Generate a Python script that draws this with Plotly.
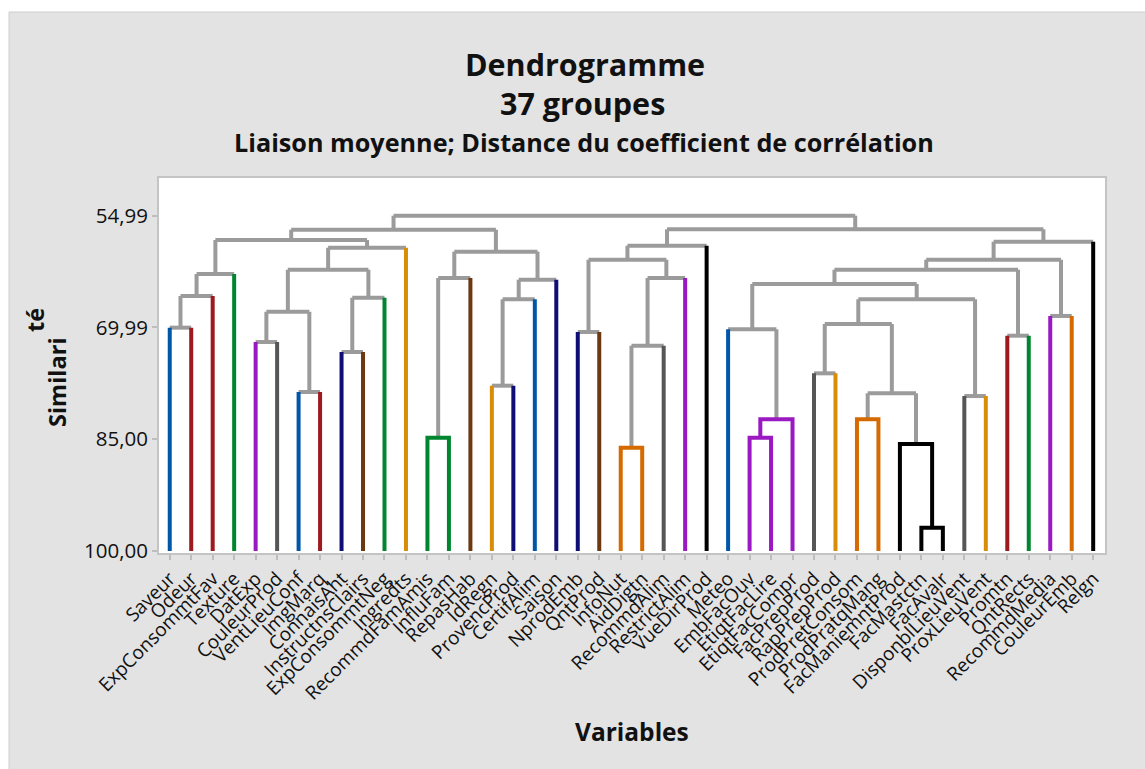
import numpy as np
import plotly.graph_objects as go

# Variables in dendrogram (leaf) order
leaves = [
    "Saveur", "Odeur", "ExpConsommtFav", "Texture", "DatExp", "CouleurProd",
    "VentLieuConf", "ImgMarq", "ConnaisAht", "InstructnsClairs", "ExpConsommtNeg",
    "Ingredts", "RecommdFamAmis", "InfluFam", "RepasHab", "IdRegn", "ProvencProd",
    "CertifAlim", "Saison", "NprodEmb", "QntProd", "InfoNut", "AidDigtn",
    "RecommdAlim", "RestrictAlim", "VueDirProd", "Meteo", "EmbFacOuv",
    "EtiqtFacLire", "EtiqtFacCompr", "FacPrepProd", "RapPrepProd",
    "ProdPretConsom", "ProdPratqMang", "FacManiemntProd", "FacMastctn",
    "FacAvalr", "DisponblLieuVent", "ProxLieuVent", "Promtn", "QntRects",
    "RecommdMedia", "CouleurEmb", "Relgn",
]

BLUE, RED, GREEN, PURPLE = "#0057a8", "#9e1a1e", "#00862f", "#9b19c2"
GREY, NAVY, BROWN, GOLD = "#565656", "#0e0e76", "#6b3812", "#d98c05"
ORANGE, BLACK = "#d46a00", "#000000"

leaf_colors = [
    BLUE, RED, RED, GREEN, PURPLE, GREY, BLUE, RED, NAVY, BROWN, GREEN,
    GOLD, GREEN, GREEN, BROWN, GOLD, NAVY, BLUE, NAVY, NAVY, BROWN, ORANGE,
    ORANGE, GREY, PURPLE, BLACK, BLUE, PURPLE, PURPLE, PURPLE, GREY, GOLD,
    ORANGE, ORANGE, BLACK, BLACK, BLACK, GREY, GOLD, RED, GREEN, PURPLE,
    ORANGE, BLACK,
]

# Average-linkage merges: node ids 0..43 are leaves, 44+ are merges in order
merge_left = [0, 44, 45, 4, 6, 47, 8, 50, 49, 52, 46, 12, 55, 15, 57, 58, 56,
              54, 19, 21, 63, 64, 62, 66, 27, 68, 26, 30, 32, 35, 34, 72, 71,
              37, 76, 70, 39, 79, 41, 81, 83, 67, 61]
merge_right = [1, 2, 3, 5, 7, 48, 9, 10, 51, 11, 53, 13, 14, 16, 17, 18, 59,
               60, 20, 22, 23, 24, 65, 25, 28, 29, 69, 31, 33, 36, 73, 74, 75,
               38, 77, 78, 40, 80, 42, 82, 43, 84, 85]
merge_similarity = [70.02, 65.77, 62.82, 71.95, 78.66, 67.88, 73.29, 66.00,
                    62.24, 59.29, 58.25, 84.79, 63.35, 77.81, 66.21, 63.58,
                    59.82, 56.87, 70.60, 86.13, 72.44, 63.35, 60.90, 59.02,
                    84.79, 82.32, 70.24, 76.15, 82.32, 96.87, 85.64, 78.83,
                    69.53, 79.20, 66.21, 64.16, 71.10, 62.24, 68.45, 60.90,
                    58.48, 56.82, 54.99]

n_groups = 37
LINK_GREY = "#9b9b9b"

n = len(leaves)
xpos = {i: float(i) for i in range(n)}
height = {i: 100.0 for i in range(n)}
first_leaf = {i: i for i in range(n)}
for k, (a, b, s) in enumerate(zip(merge_left, merge_right, merge_similarity)):
    node = n + k
    xpos[node] = (xpos[a] + xpos[b]) / 2
    height[node] = s
    first_leaf[node] = first_leaf[a]

# The merges with the highest similarity lie inside the 37 groups
order = np.argsort(merge_similarity)[::-1]
inside = set(int(k) + n for k in order[: n - n_groups])

segments = {}


def add_seg(color, xs, ys):
    seg = segments.setdefault(color, ([], []))
    seg[0].extend(list(xs) + [None])
    seg[1].extend(list(ys) + [None])


for k, (a, b, s) in enumerate(zip(merge_left, merge_right, merge_similarity)):
    node = n + k
    if node in inside:
        col = leaf_colors[first_leaf[node]]
        add_seg(col, [xpos[a], xpos[a], xpos[b], xpos[b]], [height[a], s, s, height[b]])
        continue
    add_seg(LINK_GREY, [xpos[a], xpos[b]], [s, s])
    for c in (a, b):
        col = leaf_colors[c] if c < n else LINK_GREY
        add_seg(col, [xpos[c], xpos[c]], [height[c], s])

fig = go.Figure()
colors_sorted = [LINK_GREY] + [c for c in segments if c != LINK_GREY]
for col in colors_sorted:
    if col not in segments:
        continue
    xs, ys = segments[col]
    fig.add_trace(go.Scatter(x=xs, y=ys, mode="lines",
                             line=dict(color=col, width=4),
                             hoverinfo="skip", showlegend=False))

FONT = "Open Sans"
INK = "#111111"
W, H = 1145, 769
L, R, T, B = 159, 40, 178, 216
pw, ph = W - L - R, H - T - B


def px(x):
    return (x - L) / pw


def py(y):
    return (H - B - y) / ph


min_sim = min(merge_similarity)
fig.update_layout(
    width=W, height=H,
    margin=dict(l=L, r=R, t=T, b=B, autoexpand=False),
    paper_bgcolor="#e3e3e3", plot_bgcolor="white",
    separators=",.",
    font=dict(family=FONT, color=INK),
    xaxis=dict(range=[-0.5, 43.55], tickvals=list(range(n)), ticktext=leaves,
               tickangle=-45, tickfont=dict(size=19, family=FONT, color=INK),
               ticks="outside", ticklen=5, tickcolor="#bdbdbd", tickwidth=1.5,
               showgrid=False, zeroline=False, showline=True, mirror=True,
               linecolor="#c4c4c4", linewidth=2),
    yaxis=dict(range=[100.27, 49.93], tickvals=list(np.linspace(min_sim, 100, 4)),
               tickformat=".2f", tickfont=dict(size=20.5, family=FONT, color=INK),
               ticks="outside", ticklen=5, tickcolor="#bdbdbd", tickwidth=1.5,
               showgrid=False, zeroline=False, showline=True, mirror=True,
               linecolor="#c4c4c4", linewidth=2),
    shapes=[
        dict(type="rect", xref="paper", yref="paper", x0=px(-5), x1=px(9),
             y0=py(H + 5), y1=py(-5), fillcolor="white", line=dict(width=0)),
        dict(type="rect", xref="paper", yref="paper", x0=px(-5), x1=px(W + 5),
             y0=py(12), y1=py(-5), fillcolor="white", line=dict(width=0)),
        dict(type="line", xref="paper", yref="paper", x0=px(9), x1=px(9),
             y0=py(12), y1=py(H + 5), line=dict(color="#cfcfcf", width=1)),
        dict(type="line", xref="paper", yref="paper", x0=px(9), x1=px(W + 5),
             y0=py(12), y1=py(12), line=dict(color="#cfcfcf", width=1)),
    ],
    annotations=[
        dict(text="<b>Dendrogramme</b>", x=px(585), y=py(64), xref="paper", yref="paper",
             showarrow=False, font=dict(size=30.5, family=FONT, color=INK),
             xanchor="center", yanchor="middle"),
        dict(text="<b>37 groupes</b>", x=px(582), y=py(103), xref="paper", yref="paper",
             showarrow=False, font=dict(size=30.5, family=FONT, color=INK),
             xanchor="center", yanchor="middle"),
        dict(text="<b>Liaison moyenne; Distance du coefficient de corrélation</b>",
             x=px(584), y=py(142), xref="paper", yref="paper", showarrow=False,
             font=dict(size=25.2, family=FONT, color=INK),
             xanchor="center", yanchor="middle"),
        dict(text="<b>Variables</b>", x=px(632), y=py(731), xref="paper", yref="paper",
             showarrow=False, font=dict(size=24.5, family=FONT, color=INK),
             xanchor="center", yanchor="middle"),
        dict(text="<b>Similari</b>", x=px(57), y=py(382), xref="paper", yref="paper",
             showarrow=False, textangle=-90, font=dict(size=23.5, family=FONT, color=INK),
             xanchor="center", yanchor="middle"),
        dict(text="<b>té</b>", x=px(35), y=py(320), xref="paper", yref="paper",
             showarrow=False, textangle=-90, font=dict(size=23.5, family=FONT, color=INK),
             xanchor="center", yanchor="middle"),
    ],
)

fig.write_html("out.html")
